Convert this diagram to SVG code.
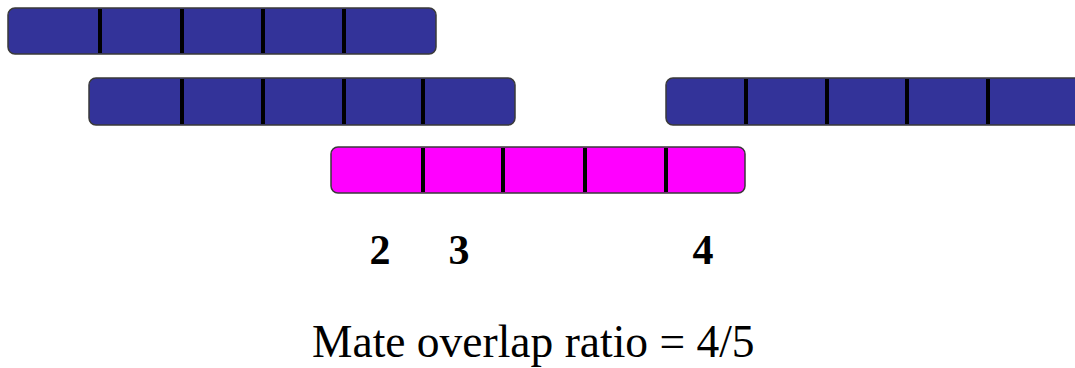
<svg xmlns="http://www.w3.org/2000/svg" width="1075" height="368" viewBox="0 0 1075 368">
<style>
.blue{fill:#333399;stroke:#3a3a3a;stroke-width:1.5}
.pink{fill:#ff00ff;stroke:#3a3a3a;stroke-width:1.5}
.div{stroke:#000;stroke-width:4}
.num{font-family:"Liberation Serif",serif;font-weight:bold;font-size:42px;fill:#000;text-anchor:middle}
.cap{font-family:"Liberation Serif",serif;font-size:45.5px;fill:#000}
</style>
<rect width="1075" height="368" fill="#fff"/>
<g id="read1">
<rect class="blue" x="8" y="8" width="428" height="46" rx="7"/>
<line class="div" x1="100" y1="9" x2="100" y2="53"/>
<line class="div" x1="182" y1="9" x2="182" y2="53"/>
<line class="div" x1="263" y1="9" x2="263" y2="53"/>
<line class="div" x1="344" y1="9" x2="344" y2="53"/>
</g>
<g id="read2">
<rect class="blue" x="89" y="78" width="426" height="47" rx="7"/>
<line class="div" x1="182" y1="79" x2="182" y2="124"/>
<line class="div" x1="263" y1="79" x2="263" y2="124"/>
<line class="div" x1="344" y1="79" x2="344" y2="124"/>
<line class="div" x1="423" y1="79" x2="423" y2="124"/>
</g>
<g id="read3">
<rect class="blue" x="666" y="78" width="430" height="47" rx="7"/>
<line class="div" x1="746" y1="79" x2="746" y2="124"/>
<line class="div" x1="827" y1="79" x2="827" y2="124"/>
<line class="div" x1="907" y1="79" x2="907" y2="124"/>
<line class="div" x1="988" y1="79" x2="988" y2="124"/>
</g>
<g id="mate">
<rect class="pink" x="331" y="147" width="414" height="46" rx="7"/>
<line class="div" x1="423" y1="148" x2="423" y2="192"/>
<line class="div" x1="503" y1="148" x2="503" y2="192"/>
<line class="div" x1="585" y1="148" x2="585" y2="192"/>
<line class="div" x1="666" y1="148" x2="666" y2="192"/>
</g>
<g id="labels">
<text class="num" x="380" y="264">2</text>
<text class="num" x="459" y="264">3</text>
<text class="num" x="703" y="264">4</text>
<text class="cap" x="312" y="357">Mate overlap ratio = 4/5</text>
</g>
</svg>
